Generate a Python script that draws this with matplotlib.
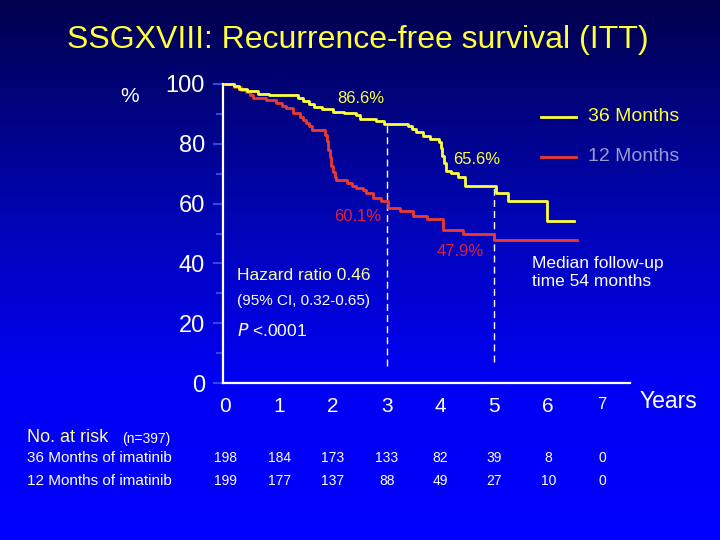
import numpy as np
import matplotlib
matplotlib.use("Agg")
import matplotlib.pyplot as plt
from matplotlib.transforms import blended_transform_factory

plt.rcParams['font.family'] = ['Liberation Sans', 'DejaVu Sans']

# Kaplan-Meier curves (years, % recurrence-free)
t36 = [0, 0.15, 0.25, 0.40, 0.60, 0.80, 1.35, 1.45, 1.55, 1.65, 1.80, 2.00, 2.20, 2.43,
       2.50, 2.80, 2.95, 3.40, 3.47, 3.55, 3.67, 3.80, 3.97, 4.00, 4.03, 4.06, 4.10,
       4.20, 4.33, 4.45, 5.03, 5.26, 5.98, 6.47]
s36 = [100, 99.2, 98.4, 97.6, 96.8, 96.2, 95.4, 94.4, 93.4, 92.4, 91.6, 90.8, 90.3, 89.7,
       88.3, 87.6, 86.6, 85.8, 84.8, 83.8, 82.6, 81.6, 80.6, 78.5, 76.0, 73.5, 71.0,
       70.2, 69.0, 65.8, 63.6, 61.0, 54.2, 54.2]

t12 = [0, 0.15, 0.28, 0.39, 0.45, 0.51, 0.76, 0.94, 1.05, 1.13, 1.25, 1.38, 1.45, 1.50,
       1.55, 1.60, 1.85, 1.88, 1.91, 1.94, 1.97, 2.00, 2.03, 2.06, 2.25, 2.35, 2.43,
       2.55, 2.62, 2.74, 2.90, 3.02, 3.24, 3.49, 3.74, 4.05, 4.42, 5.00, 6.53]
s12 = [100, 99.0, 98.0, 97.2, 96.2, 95.2, 94.6, 93.6, 92.8, 91.9, 90.2, 89.1, 88.0, 86.9,
       85.8, 84.7, 83.0, 81.0, 78.0, 75.5, 72.5, 70.5, 69.0, 68.0, 66.9, 66.0, 65.2,
       64.4, 63.6, 61.9, 60.8, 58.6, 57.4, 55.8, 54.7, 51.3, 49.8, 47.9, 47.9]

mark_years = [3, 5]
mark_36 = [86.6, 65.6]
mark_12 = [60.1, 47.9]

years = [0, 1, 2, 3, 4, 5, 6, 7]
risk_36 = [198, 184, 173, 133, 82, 39, 8, 0]
risk_12 = [199, 177, 137, 88, 49, 27, 10, 0]

YELLOW = '#ffff3c'
RED = '#ee3a2e'
LABEL_RED = '#e0203c'

fig = plt.figure(figsize=(7.2, 5.4), dpi=100)

# blue gradient background
bg = fig.add_axes([0, 0, 1, 1], zorder=-10)
f = np.linspace(0, 1, 256)
r = np.zeros_like(f)
g = np.interp(f, [0, 0.4, 0.7, 1], [0.0, 0.02, 0.0, 0.0])
b = np.interp(f, [0, 0.4, 0.7, 1], [0.30, 0.70, 0.95, 1.0])
grad = np.dstack([r, g, b]).reshape(256, 1, 3)
bg.imshow(grad, aspect='auto', extent=[0, 1, 1, 0])
bg.set_xlim(0, 1)
bg.set_ylim(1, 0)
bg.axis('off')

ax = fig.add_axes([223 / 720, 1 - 383 / 540, (630 - 223) / 720, (383 - 84) / 540])
ax.patch.set_alpha(0)

ax.step(t12, s12, where='post', color=RED, lw=2, clip_on=False, zorder=3)
ax.step(t36, s36, where='post', color=YELLOW, lw=2, clip_on=False, zorder=4)

ax.vlines(mark_years, [5.8, 7], mark_36, colors='white', linestyles=(0, (5, 3)), lw=1)

ax.set_xlim(-0.046, 7.52)
ax.set_ylim(0, 100)
for s in ['top', 'right']:
    ax.spines[s].set_visible(False)
for s in ['left', 'bottom']:
    ax.spines[s].set_color('white')
    ax.spines[s].set_linewidth(1.6)

ax.set_yticks([0, 20, 40, 60, 80, 100])
ax.set_yticks([10, 30, 50, 70, 90], minor=True)
ax.tick_params(axis='y', which='major', colors='#3048e8', labelcolor='white',
               labelsize=17, length=7, width=1.5, pad=6)
ax.tick_params(axis='y', which='minor', colors='#3048e8', length=5, width=1.5)
ax.set_xticks(years)
ax.set_xticklabels([str(y) for y in years])
ax.tick_params(axis='x', length=0, labelcolor='white', labelsize=15, pad=10)
ax.get_xticklabels()[-1].set_fontsize(12)

# annotations
ax.text(2.51, 95.3, '86.6%', color=YELLOW, fontsize=12, ha='center', va='center')
ax.text(4.67, 74.7, '65.6%', color=YELLOW, fontsize=12, ha='center', va='center')
ax.text(2.46, 55.8, '60.1%', color=LABEL_RED, fontsize=12, ha='center', va='center')
ax.text(4.36, 44.1, '47.9%', color=LABEL_RED, fontsize=12, ha='center', va='center')

ax.text(0.22, 35.8, 'Hazard ratio 0.46', color='#ffff99', fontsize=12.5, va='center')
ax.text(0.22, 27.4, '(95% CI, 0.32-0.65)', color='white', fontsize=11, va='center')
ax.text(0.22, 17.4, r'$\it{P}$ <.0001', color='white', fontsize=12.5, va='center')

ax.text(5.7, 37.0, 'Median follow-up\ntime 54 months', color='white', fontsize=12.5,
        va='center', linespacing=1.2)

# legend drawn by hand
fig.lines.append(plt.Line2D([541 / 720, 576 / 720], [1 - 116.7 / 540] * 2,
                            color=YELLOW, lw=2, transform=fig.transFigure))
fig.lines.append(plt.Line2D([541 / 720, 576 / 720], [1 - 156.7 / 540] * 2,
                            color=RED, lw=2, transform=fig.transFigure))
fig.text(588 / 720, 1 - 116.7 / 540, '36 Months', color=YELLOW, fontsize=14, va='center')
fig.text(588 / 720, 1 - 156.7 / 540, '12 Months', color='#9a9ad2', fontsize=14, va='center')

fig.text(358 / 720, 1 - 40 / 540, 'SSGXVIII: Recurrence-free survival (ITT)',
         color=YELLOW, fontsize=23, ha='center', va='center')
fig.text(130 / 720, 1 - 97 / 540, '%', color='white', fontsize=15, ha='center', va='center')
fig.text(640 / 720, 1 - 402 / 540, 'Years', color='white', fontsize=16.5, va='center')

# number at risk table
fig.text(27 / 720, 1 - 438 / 540, 'No. at risk', color='#ffff99', fontsize=13, va='center')
fig.text(122 / 720, 1 - 439 / 540, '(n=397)', color='white', fontsize=10, va='center')
fig.text(27 / 720, 1 - 458 / 540, '36 Months of imatinib', color='white', fontsize=11, va='center')
fig.text(27 / 720, 1 - 481 / 540, '12 Months of imatinib', color='white', fontsize=11, va='center')
tr = blended_transform_factory(ax.transData, fig.transFigure)
for x, a, b12 in zip(years, risk_36, risk_12):
    fig.text(x, 1 - 458 / 540, str(a), color='white', fontsize=10, ha='center', va='center',
             transform=tr)
    fig.text(x, 1 - 481 / 540, str(b12), color='white', fontsize=10, ha='center', va='center',
             transform=tr)

fig.savefig('out.png', dpi=100)
